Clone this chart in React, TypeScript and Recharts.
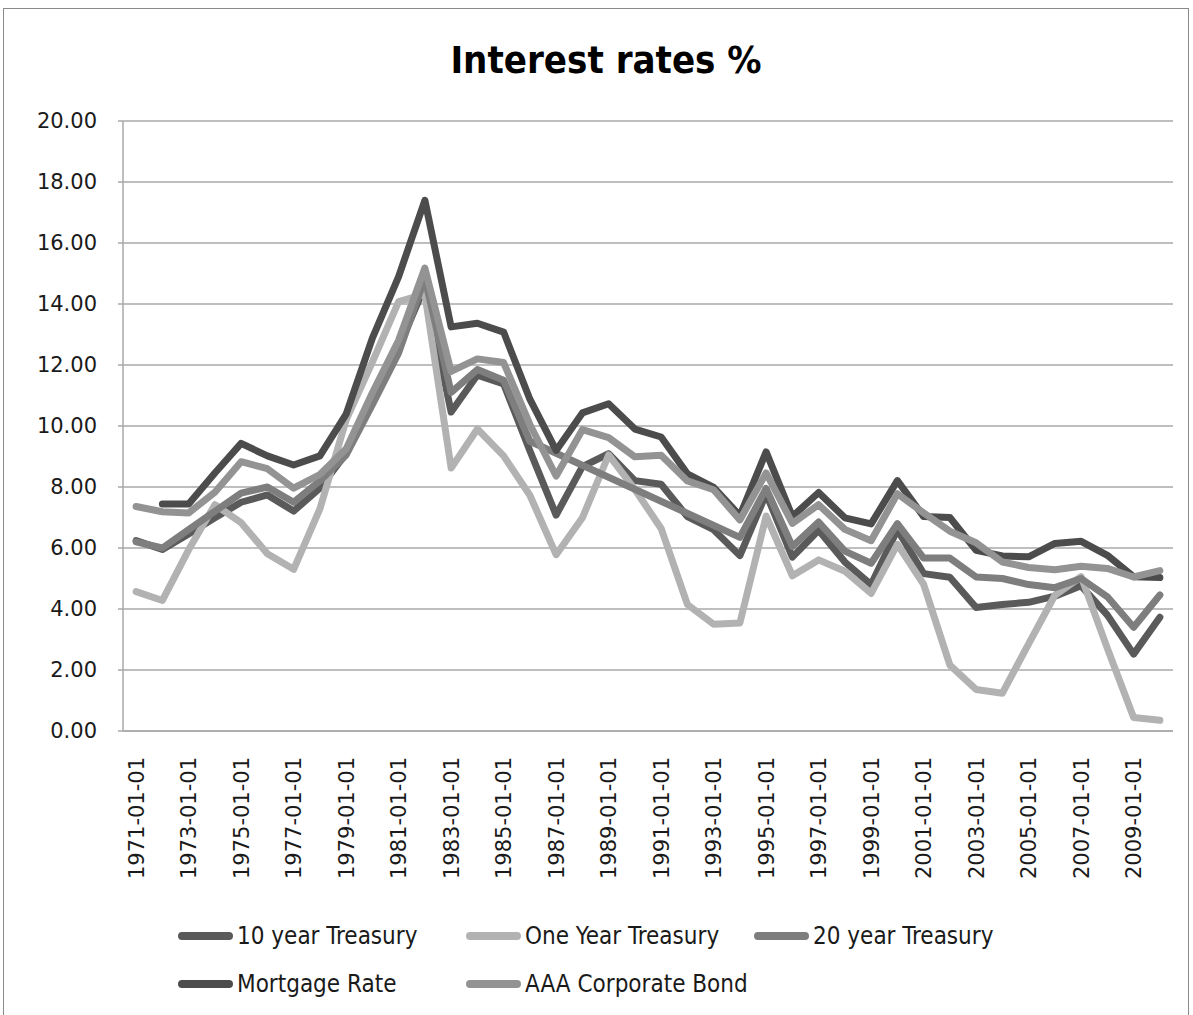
import React from "react";
import { LineChart, Line, XAxis, YAxis, CartesianGrid } from "recharts";

const categories = [
  "1971-01-01", "1972-01-01", "1973-01-01", "1974-01-01", "1975-01-01", "1976-01-01", "1977-01-01", "1978-01-01",
  "1979-01-01", "1980-01-01", "1981-01-01", "1982-01-01", "1983-01-01", "1984-01-01", "1985-01-01", "1986-01-01",
  "1987-01-01", "1988-01-01", "1989-01-01", "1990-01-01", "1991-01-01", "1992-01-01", "1993-01-01", "1994-01-01",
  "1995-01-01", "1996-01-01", "1997-01-01", "1998-01-01", "1999-01-01", "2000-01-01", "2001-01-01", "2002-01-01",
  "2003-01-01", "2004-01-01", "2005-01-01", "2006-01-01", "2007-01-01", "2008-01-01", "2009-01-01", "2010-01-01",
];

const tenYear = [
  6.24, 5.95, 6.46, 6.99, 7.5, 7.74, 7.21, 7.96, 9.1, 10.8, 12.57, 14.59, 10.46, 11.67, 11.38, 9.19,
  7.08, 8.67, 9.09, 8.21, 8.09, 7.03, 6.6, 5.75, 7.78, 5.7, 6.58, 5.54, 4.8, 6.6, 5.16, 5.04,
  4.05, 4.15, 4.22, 4.42, 4.76, 3.8, 2.52, 3.73,
];

const oneYear = [
  4.57, 4.28, 5.94, 7.42, 6.83, 5.81, 5.3, 7.28, 10.2, 12.1, 14.08, 14.32, 8.62, 9.9, 9.02, 7.73,
  5.78, 6.99, 9.05, 7.92, 6.64, 4.15, 3.5, 3.54, 7.05, 5.09, 5.61, 5.24, 4.51, 6.12, 4.81, 2.16,
  1.36, 1.24, 2.86, 4.45, 5.06, 2.71, 0.44, 0.35,
];

const twentyYear = [
  6.2, 6.0, 6.6, 7.2, 7.8, 8.0, 7.5, 8.2, 9.05, 10.7, 12.4, 14.85, 11.1, 11.85, 11.5, 9.5,
  null, null, null, null, null, null, null, 6.35, 7.95, 6.05, 6.85, 5.9, 5.5, 6.8, 5.67, 5.67,
  5.05, 5.0, 4.8, 4.7, 5.0, 4.4, 3.4, 4.46,
];

const mortgage = [
  null, 7.44, 7.44, 8.46, 9.43, 9.02, 8.72, 9.02, 10.39, 12.88, 14.9, 17.4, 13.25, 13.37, 13.08, 10.88,
  9.2, 10.43, 10.73, 9.9, 9.64, 8.43, 7.99, 7.06, 9.15, 7.03, 7.82, 6.99, 6.79, 8.21, 7.03, 7.0,
  5.92, 5.74, 5.71, 6.15, 6.22, 5.76, 5.06, 5.03,
];

const aaaBond = [
  7.36, 7.19, 7.15, 7.83, 8.83, 8.6, 7.96, 8.41, 9.25, 11.09, 12.81, 15.18, 11.79, 12.2, 12.08, 10.05,
  8.36, 9.88, 9.62, 8.99, 9.04, 8.2, 7.91, 6.92, 8.46, 6.81, 7.42, 6.61, 6.24, 7.78, 7.15, 6.55,
  6.17, 5.54, 5.36, 5.29, 5.4, 5.33, 5.05, 5.26,
];

const yTicks = [0, 2, 4, 6, 8, 10, 12, 14, 16, 18, 20];

const series = [
  { key: "tenYear", name: "10 year Treasury", color: "#5a5a5a" },
  { key: "oneYear", name: "One Year Treasury", color: "#b2b2b2" },
  { key: "twentyYear", name: "20 year Treasury", color: "#7e7e7e" },
  { key: "mortgage", name: "Mortgage Rate", color: "#4c4c4c" },
  { key: "aaaBond", name: "AAA Corporate Bond", color: "#939393" },
];

const data = categories.map((date, i) => ({
  date,
  tenYear: tenYear[i],
  oneYear: oneYear[i],
  twentyYear: twentyYear[i],
  mortgage: mortgage[i],
  aaaBond: aaaBond[i],
}));

const AXIS_FONT = "'DejaVu Sans', Verdana, sans-serif";
const NARROW_FONT = "'Liberation Sans Narrow', 'DejaVu Sans Condensed', 'Arial Narrow', sans-serif";

const XTick = (props: any) => {
  const { x, y, payload } = props;
  return (
    <g transform={`translate(${x},${y})`}>
      <text
        transform="rotate(-90)"
        textAnchor="end"
        dy="0.36em"
        fill="#1a1a1a"
        fontSize={21}
        fontFamily={AXIS_FONT}
      >
        {payload.value}
      </text>
    </g>
  );
};

export default function App() {
  return (
    <div style={{ position: "fixed", left: 0, top: 0, width: 1193, height: 1015, background: "#fff", overflow: "hidden" }}>
      <div
        style={{
          position: "absolute",
          left: 3,
          top: 8,
          width: 1186,
          height: 1030,
          border: "1.5px solid #8a8a8a",
          boxSizing: "border-box",
        }}
      />
      <div
        style={{
          position: "absolute",
          left: 0,
          width: 1212,
          top: 36,
          textAlign: "center",
          fontFamily: NARROW_FONT,
          fontWeight: "bold",
          fontSize: 38,
          color: "#000",
          lineHeight: "48px",
        }}
      >
        Interest rates %
      </div>
      <div style={{ position: "absolute", left: 0, top: 0 }}>
        <LineChart
          width={1193}
          height={1015}
          data={data}
          margin={{ top: 121, right: 20, bottom: 134, left: 0 }}
        >
          <CartesianGrid vertical={false} stroke="#a8a8a8" strokeWidth={1.5} />
          <XAxis
            dataKey="date"
            interval={1}
            padding={{ left: 13.125, right: 13.125 }}
            height={150}
            tickSize={0}
            tickMargin={26}
            tick={<XTick />}
            axisLine={{ stroke: "#a8a8a8", strokeWidth: 1.5 }}
            tickLine={false}
          />
          <YAxis
            domain={[0, 20]}
            ticks={yTicks}
            interval={0}
            width={123}
            tickSize={5}
            tickMargin={21}
            tickFormatter={(v: number) => v.toFixed(2)}
            tick={{ fontSize: 21, fill: "#1a1a1a", fontFamily: AXIS_FONT }}
            axisLine={{ stroke: "#a8a8a8", strokeWidth: 1.5 }}
            tickLine={{ stroke: "#a8a8a8", strokeWidth: 1.5 }}
          />
          {series.map((s) => (
            <Line
              key={s.key}
              type="linear"
              dataKey={s.key}
              name={s.name}
              stroke={s.color}
              strokeWidth={7}
              strokeLinejoin="round"
              strokeLinecap="round"
              dot={false}
              activeDot={false}
              connectNulls
              isAnimationActive={false}
            />
          ))}
        </LineChart>
      </div>
      <div style={{ position: "absolute", left: 178, top: 918, width: 900 }}>
        {series.map((s, i) => (
          <div
            key={s.key}
            style={{
              position: "absolute",
              left: (i % 3) * 288,
              top: Math.floor(i / 3) * 48,
              display: "flex",
              alignItems: "center",
              height: 36,
              whiteSpace: "nowrap",
            }}
          >
            <div style={{ width: 55, height: 8, borderRadius: 4, background: s.color, marginRight: 4 }} />
            <span style={{ fontFamily: NARROW_FONT, fontSize: 24, color: "#1a1a1a" }}>{s.name}</span>
          </div>
        ))}
      </div>
    </div>
  );
}
